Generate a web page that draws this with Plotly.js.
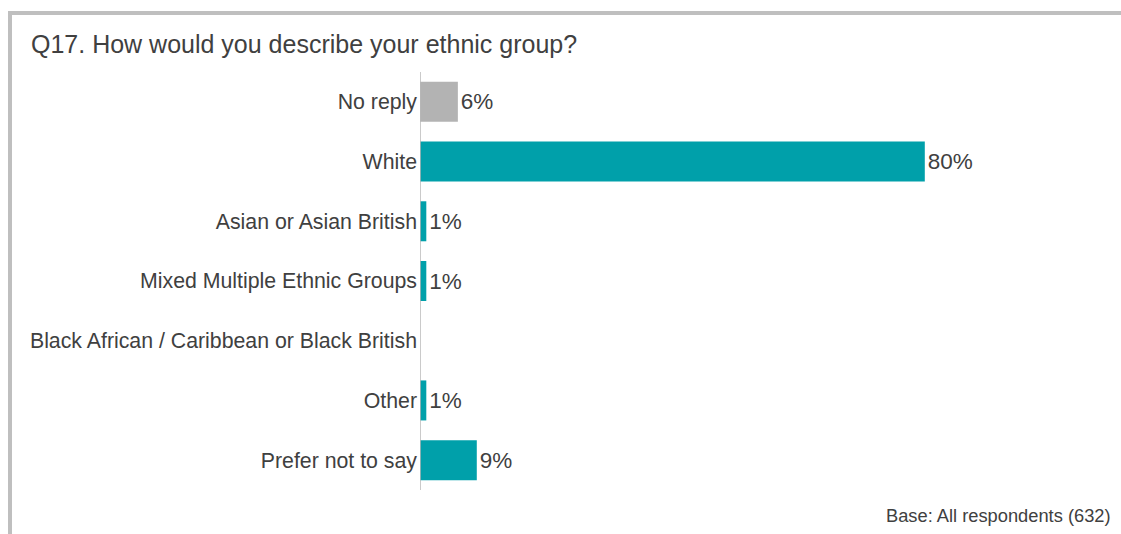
<!DOCTYPE html>
<html>
<head>
<meta charset="utf-8">
<script src="https://cdn.plot.ly/plotly-3.0.1.min.js"></script>
<style>
  html, body { margin: 0; padding: 0; background: #fff; }
  #wrap { position: relative; width: 1121px; height: 534px; overflow: hidden; }
  #chart { width: 1121px; height: 534px; }
  #frame { position: absolute; left: 8px; top: 11px; width: 1113px; height: 523px;
           border-left: 4px solid #bfbfbf; border-top: 4px solid #bfbfbf; box-sizing: border-box; pointer-events: none; }
</style>
</head>
<body>
<div id="wrap">
  <div id="chart"></div>
  <div id="frame"></div>
</div>
<script>
const categories = ["No reply", "White", "Asian or Asian British", "Mixed Multiple Ethnic Groups",
  "Black African / Caribbean or Black British", "Other", "Prefer not to say"];
const values = [6, 80, 1, 1, null, 1, 9];
const labels = ["6%", "80%", "1%", "1%", "", "1%", "9%"];
const barColors = ["#b3b3b3", "#00a0aa", "#00a0aa", "#00a0aa", "#00a0aa", "#00a0aa", "#00a0aa"];

const textColor = "#404040";
const fontFam = "'Liberation Sans', Arial, sans-serif";

const trace = {
  type: "bar",
  orientation: "h",
  y: categories,
  x: values,
  text: labels,
  textposition: "outside",
  cliponaxis: false,
  textfont: { family: fontFam, size: 22.5, color: textColor },
  marker: { color: barColors },
  hoverinfo: "none"
};

const layout = {
  width: 1121,
  height: 534,
  margin: { l: 420, r: 70, t: 72, b: 44 },
  paper_bgcolor: "#ffffff",
  plot_bgcolor: "#ffffff",
  showlegend: false,
  bargap: 0.33,
  font: { family: fontFam, color: textColor },
  title: {
    text: "Q17. How would you describe your ethnic group?",
    font: { family: fontFam, size: 25, color: textColor },
    x: 31 / 1121, xanchor: "left", xref: "container",
    y: 1 - 44 / 534, yanchor: "middle", yref: "container"
  },
  xaxis: {
    range: [0, 100],
    visible: false,
    fixedrange: true
  },
  yaxis: {
    autorange: "reversed",
    showgrid: false,
    zeroline: false,
    showline: false,
    ticks: "",
    ticklabelstandoff: 2,
    tickfont: { family: fontFam, size: 21.3, color: textColor },
    fixedrange: true
  },
  shapes: [{
    type: "line", xref: "x", yref: "paper",
    x0: 0, x1: 0, y0: 0, y1: 1,
    line: { color: "#b8b8b8", width: 1.5 }
  }],
  annotations: [{
    text: "Base: All respondents (632)",
    xref: "paper", yref: "paper",
    x: (1113 - 420) / 631, y: (490 - 515) / 418,
    xanchor: "right", yanchor: "middle",
    showarrow: false,
    font: { family: fontFam, size: 18.3, color: textColor }
  }]
};

Plotly.newPlot("chart", [trace], layout, { displayModeBar: false, staticPlot: true });
</script>
</body>
</html>
